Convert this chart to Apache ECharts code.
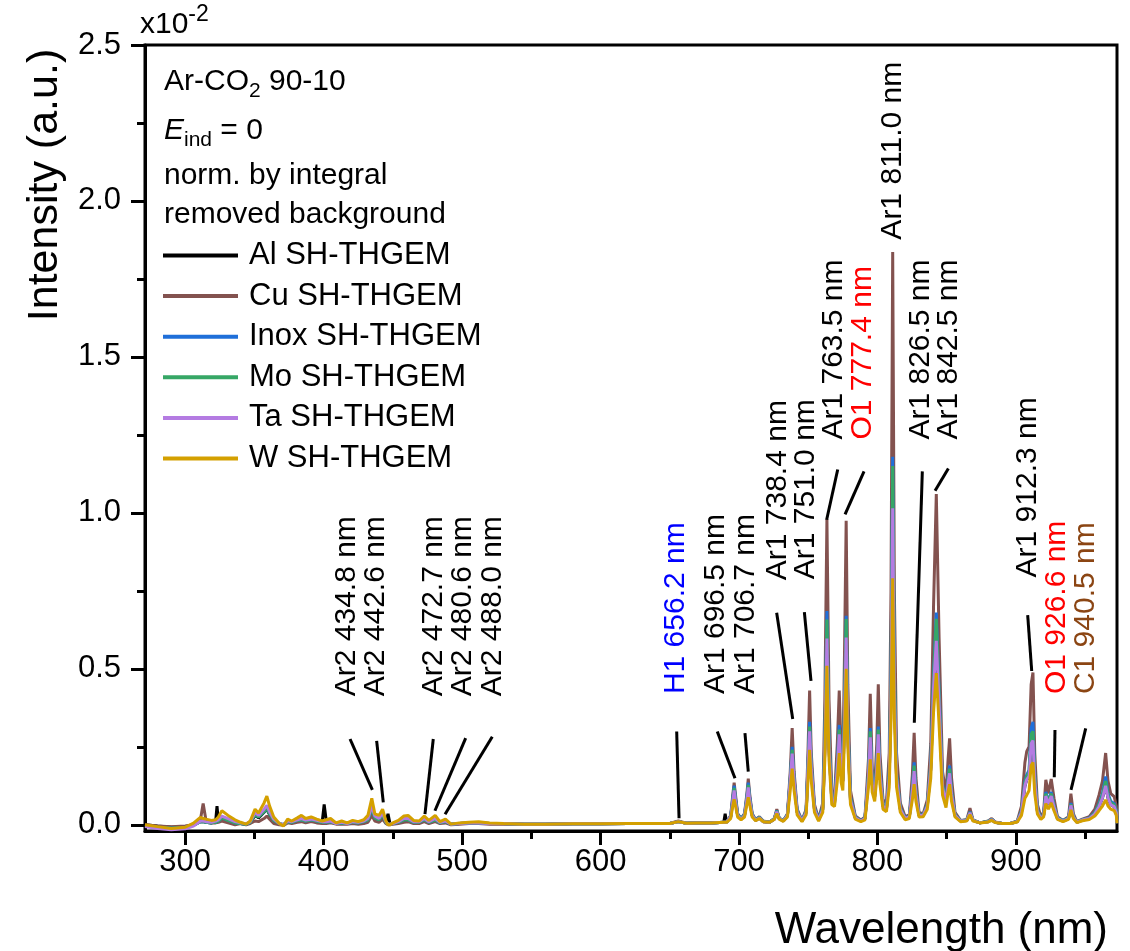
<!DOCTYPE html>
<html><head><meta charset="utf-8">
<script src="https://cdn.jsdelivr.net/npm/echarts@6/dist/echarts.min.js"></script>
<style>html,body{margin:0;padding:0;background:#fff}#c{width:1130px;height:951px}</style>
</head><body><div id="c"></div>
<script>
// ---------- DATA ----------
const wavelength = [
271,280,290,300,306,311,313,315,319,322,
323,324,326.5,331,336,340,344,347,350.5,353,
357,359,361,364,368,371,374,377,381,384,
387,391,395,399,400.4,402,405,409,413,417,
421,425,429,432,434.8,437,440,442.6,445,446.5,
448,450,454,458,461,465,469,472.7,476,480.6,
484,488,492,498,505,512,520,530,545,560,
580,600,620,640,650,656.2,662,670,680,689,
690,691,694,695.5,696.5,697.5,699,701.5,704,705.7,
706.7,707.7,709.5,712,714.7,717.5,722,725.5,727.3,729,
732,735,737,738.4,739.8,742,745.5,748.5,749.8,751,
752.2,754.5,757.5,760.5,762,763.5,765,767,769,771,
772.4,773.8,775,776.2,777.4,778.6,780.5,784,788,791,
793.5,794.8,796.2,798,799.5,800.6,801.8,804,806.5,808.5,
809.8,811,812.2,813.8,816.5,820,823,825.2,826.5,827.8,
830,833,836,838.5,840.5,842.5,844.5,847,849.5,851,
852.1,853.5,856,860,864.5,866.8,869,874,880,882.5,
885,890,896,901,904,906.5,907.8,909.5,911,912.3,
913.6,915.5,918,920,921.6,923.5,925.5,927.5,930,934,
938,939.7,941.5,944,948,953,957,960,962.5,964.8,
966.5,968.5,971,972.5,973];

const alSH = [
0,-0.004,-0.008,-0.006,0,0.010,0.010,0.008,0.006,0.010,
0.060,0.012,0.020,0.012,0.006,0.004,0.002,0.006,0.030,0.022,
0.040,0.050,0.032,0.012,0.002,0,0.010,0.006,0.014,0.016,
0.012,0.016,0.012,0.010,0.065,0.010,0.012,0.004,0.006,0.004,
0.008,0.006,0.010,0.014,0.050,0.020,0.014,0.030,0.006,0.035,
0.002,0.004,0.008,0.016,0.016,0.008,0.008,0.016,0.008,0.016,
0.006,0.010,0.002,0.004,0.006,0.006,0.004,0.004,0.002,0.002,
0.003,0.003,0.004,0.004,0.004,0.010,0.005,0.006,0.006,0.008,
0.035,0.008,0.025,0.075,0.110,0.075,0.030,0.018,0.030,0.080,
0.120,0.080,0.030,0.014,0.022,0.010,0.008,0.018,0.042,0.020,
0.012,0.030,0.140,0.228,0.140,0.040,0.012,0.040,0.178,0.300,
0.178,0.050,0.015,0.050,0.245,0.590,0.245,0.080,0.070,0.180,
0.290,0.170,0.140,0.345,0.590,0.295,0.080,0.022,0.012,0.020,
0.150,0.280,0.130,0.090,0.180,0.290,0.160,0.060,0.050,0.150,
0.430,1.000,0.430,0.150,0.050,0.020,0.025,0.108,0.172,0.098,
0.030,0.030,0.060,0.180,0.440,0.580,0.380,0.120,0.070,0.135,
0.165,0.098,0.030,0.012,0.014,0.038,0.014,0.006,0.010,0.016,
0.008,0.004,0.004,0.010,0.040,0.125,0.145,0.155,0.260,0.270,
0.140,0.044,0.020,0.030,0.092,0.066,0.092,0.057,0.020,0.012,
0.020,0.062,0.025,0.008,0.015,0.020,0.035,0.058,0.086,0.125,
0.086,0.064,0.058,0.038,0.005];

const cuSH = [
0,-0.004,-0.006,-0.004,0,0.015,0.068,0.015,0.006,0.006,
0.008,0.008,0.012,0.006,0,0.004,0,0.004,0.012,0.010,
0.020,0.028,0.018,0.004,0,-0.002,0.006,0.004,0.008,0.010,
0.006,0.010,0.006,0.004,0.006,0.004,0.006,0.002,0.002,0.002,
0.004,0.002,0.004,0.008,0.030,0.012,0.008,0.018,0.004,0,
0,0.002,0.004,0.008,0.010,0.004,0.004,0.010,0.004,0.010,
0.004,0.006,0,0.002,0.004,0.004,0.002,0.002,0.002,0.002,
0.003,0.003,0.004,0.004,0.004,0.012,0.005,0.006,0.006,0.008,
0.008,0.008,0.030,0.095,0.135,0.095,0.036,0.020,0.036,0.100,
0.148,0.100,0.036,0.016,0.026,0.012,0.008,0.020,0.050,0.022,
0.013,0.035,0.170,0.310,0.170,0.050,0.014,0.050,0.230,0.430,
0.230,0.065,0.018,0.070,0.400,0.980,0.400,0.110,0.090,0.260,
0.430,0.230,0.180,0.550,0.975,0.450,0.110,0.028,0.015,0.025,
0.210,0.420,0.180,0.120,0.260,0.450,0.230,0.080,0.070,0.230,
0.750,1.836,0.750,0.230,0.070,0.026,0.032,0.160,0.295,0.150,
0.040,0.035,0.080,0.260,0.700,1.060,0.600,0.170,0.100,0.210,
0.277,0.150,0.040,0.014,0.016,0.053,0.016,0.006,0.012,0.020,
0.009,0.004,0.004,0.012,0.060,0.200,0.235,0.250,0.450,0.488,
0.230,0.065,0.026,0.040,0.144,0.100,0.147,0.085,0.026,0.014,
0.026,0.100,0.035,0.010,0.018,0.026,0.050,0.095,0.140,0.230,
0.140,0.100,0.090,0.060,0.005];

const inoxSH = [
-0.004,-0.008,-0.010,-0.008,-0.002,0.010,0.010,0.008,0.006,0.008,
0.010,0.012,0.022,0.014,0.006,0.004,0.002,0.008,0.032,0.025,
0.042,0.052,0.035,0.014,0.004,0,0.010,0.008,0.014,0.016,
0.012,0.016,0.012,0.008,0.010,0.008,0.010,0.004,0.006,0.004,
0.008,0.006,0.010,0.016,0.052,0.022,0.016,0.032,0.008,0.002,
0.002,0.004,0.008,0.016,0.016,0.008,0.008,0.016,0.008,0.016,
0.006,0.010,0.002,0.004,0.006,0.006,0.004,0.004,0.002,0.002,
0.003,0.003,0.004,0.004,0.004,0.010,0.005,0.006,0.006,0.008,
0.008,0.008,0.028,0.085,0.125,0.085,0.034,0.020,0.034,0.090,
0.135,0.090,0.034,0.015,0.024,0.011,0.008,0.019,0.046,0.021,
0.013,0.033,0.150,0.250,0.150,0.045,0.013,0.045,0.195,0.330,
0.195,0.056,0.017,0.058,0.280,0.685,0.280,0.090,0.078,0.200,
0.320,0.185,0.150,0.390,0.670,0.330,0.090,0.025,0.013,0.022,
0.165,0.310,0.145,0.100,0.200,0.315,0.175,0.066,0.056,0.165,
0.500,1.180,0.500,0.165,0.055,0.022,0.028,0.120,0.200,0.110,
0.033,0.032,0.066,0.195,0.480,0.680,0.430,0.130,0.078,0.150,
0.190,0.110,0.033,0.013,0.015,0.042,0.015,0.006,0.011,0.018,
0.008,0.004,0.004,0.011,0.045,0.140,0.160,0.175,0.310,0.330,
0.165,0.050,0.022,0.033,0.105,0.075,0.105,0.064,0.022,0.013,
0.022,0.070,0.028,0.009,0.016,0.022,0.040,0.068,0.100,0.155,
0.100,0.075,0.068,0.045,0.005];

const moSH = [
-0.004,-0.008,-0.011,-0.009,-0.002,0.010,0.010,0.008,0.006,0.008,
0.010,0.012,0.022,0.014,0.006,0.004,0.002,0.008,0.032,0.025,
0.042,0.052,0.035,0.014,0.004,0,0.010,0.008,0.014,0.016,
0.012,0.016,0.012,0.008,0.010,0.008,0.010,0.004,0.006,0.004,
0.008,0.006,0.010,0.016,0.052,0.022,0.016,0.032,0.008,0.002,
0.002,0.004,0.008,0.016,0.016,0.008,0.008,0.016,0.008,0.016,
0.006,0.010,0.002,0.004,0.006,0.006,0.004,0.004,0.002,0.002,
0.003,0.003,0.004,0.004,0.004,0.010,0.005,0.006,0.006,0.008,
0.008,0.008,0.026,0.080,0.118,0.080,0.032,0.020,0.032,0.085,
0.128,0.085,0.032,0.015,0.023,0.011,0.008,0.019,0.044,0.021,
0.013,0.032,0.145,0.240,0.145,0.043,0.013,0.043,0.185,0.315,
0.185,0.053,0.016,0.055,0.270,0.658,0.270,0.086,0.075,0.190,
0.305,0.178,0.145,0.375,0.660,0.320,0.086,0.024,0.013,0.021,
0.160,0.300,0.140,0.096,0.190,0.305,0.168,0.064,0.054,0.160,
0.480,1.150,0.480,0.160,0.053,0.021,0.027,0.115,0.190,0.105,
0.032,0.031,0.064,0.190,0.470,0.660,0.420,0.125,0.075,0.145,
0.180,0.105,0.032,0.013,0.015,0.040,0.015,0.006,0.011,0.017,
0.008,0.004,0.004,0.011,0.043,0.135,0.155,0.168,0.290,0.300,
0.155,0.047,0.021,0.032,0.100,0.072,0.100,0.061,0.021,0.013,
0.021,0.066,0.026,0.009,0.016,0.021,0.038,0.064,0.094,0.140,
0.094,0.070,0.064,0.042,0.005];

const taSH = [
-0.006,-0.012,-0.016,-0.013,-0.004,0.012,0.012,0.010,0.008,0.012,
0.014,0.016,0.028,0.020,0.010,0.006,0.003,0.010,0.040,0.030,
0.050,0.062,0.042,0.018,0.004,0,0.012,0.010,0.016,0.020,
0.015,0.018,0.014,0.010,0.012,0.010,0.012,0.004,0.008,0.004,
0.010,0.008,0.012,0.020,0.060,0.028,0.020,0.038,0.010,0.002,
0.002,0.004,0.010,0.020,0.020,0.010,0.010,0.020,0.010,0.020,
0.008,0.012,0.002,0.004,0.006,0.006,0.004,0.004,0.002,0.002,
0.003,0.003,0.004,0.004,0.004,0.010,0.005,0.006,0.006,0.008,
0.008,0.008,0.025,0.075,0.110,0.075,0.030,0.018,0.030,0.080,
0.120,0.080,0.030,0.014,0.022,0.010,0.008,0.018,0.042,0.020,
0.012,0.030,0.140,0.228,0.140,0.040,0.012,0.040,0.178,0.300,
0.178,0.050,0.015,0.050,0.245,0.597,0.245,0.080,0.070,0.180,
0.290,0.170,0.140,0.345,0.600,0.295,0.080,0.022,0.012,0.020,
0.150,0.280,0.130,0.090,0.180,0.290,0.160,0.060,0.050,0.150,
0.430,1.015,0.430,0.150,0.050,0.020,0.025,0.108,0.172,0.098,
0.030,0.030,0.060,0.180,0.440,0.590,0.390,0.120,0.070,0.135,
0.165,0.098,0.030,0.012,0.014,0.038,0.014,0.006,0.010,0.016,
0.008,0.004,0.004,0.010,0.040,0.125,0.145,0.155,0.260,0.270,
0.140,0.044,0.020,0.030,0.092,0.066,0.092,0.057,0.020,0.012,
0.020,0.062,0.025,0.008,0.015,0.020,0.035,0.058,0.086,0.125,
0.086,0.064,0.058,0.038,0.005];

const wSH = [
0,-0.006,-0.012,-0.008,0.005,0.024,0.020,0.018,0.014,0.016,
0.018,0.025,0.045,0.030,0.016,0.008,0.002,0.012,0.050,0.038,
0.070,0.092,0.060,0.025,0.004,-0.004,0.018,0.012,0.022,0.030,
0.020,0.025,0.018,0.012,0.014,0.016,0.020,0.006,0.012,0.006,
0.014,0.010,0.016,0.030,0.085,0.035,0.030,0.050,0.012,0,
0,0.006,0.014,0.028,0.030,0.014,0.012,0.028,0.014,0.030,
0.010,0.018,0.002,0.006,0.008,0.010,0.006,0.004,0.002,0.002,
0.003,0.003,0.004,0.004,0.004,0.010,0.005,0.006,0.006,0.008,
0.008,0.008,0.020,0.060,0.082,0.060,0.025,0.016,0.025,0.065,
0.088,0.065,0.025,0.013,0.020,0.010,0.008,0.017,0.036,0.018,
0.011,0.025,0.110,0.180,0.110,0.032,0.010,0.032,0.140,0.240,
0.140,0.040,0.012,0.040,0.210,0.510,0.210,0.065,0.058,0.140,
0.230,0.135,0.110,0.290,0.500,0.250,0.065,0.018,0.010,0.016,
0.120,0.210,0.105,0.075,0.150,0.230,0.130,0.050,0.042,0.120,
0.340,0.790,0.340,0.120,0.040,0.016,0.020,0.080,0.130,0.075,
0.025,0.026,0.050,0.150,0.360,0.486,0.320,0.095,0.055,0.105,
0.130,0.075,0.025,0.010,0.012,0.032,0.012,0.006,0.009,0.014,
0.007,0.004,0.004,0.009,0.030,0.085,0.095,0.110,0.190,0.200,
0.100,0.035,0.017,0.025,0.068,0.050,0.070,0.045,0.017,0.010,
0.017,0.048,0.020,0.007,0.013,0.017,0.028,0.045,0.060,0.080,
0.060,0.050,0.045,0.030,0.005];

const seriesNames = ['Al SH-THGEM','Cu SH-THGEM','Inox SH-THGEM','Mo SH-THGEM','Ta SH-THGEM','W SH-THGEM'];

const xMajorTicks = [300,400,500,600,700,800,900];
const xMinorTicks = [350,450,550,650,750,850,950];
const yMajorTicks = [0,0.5,1,1.5,2,2.5];
const yMinorTicks = [0.25,0.75,1.25,1.75,2.25];

// line annotations (text start point in data units)
const annoTexts = ['Ar2 434.8 nm','Ar2 442.6 nm','Ar2 472.7 nm','Ar2 480.6 nm','Ar2 488.0 nm','H1 656.2 nm','Ar1 696.5 nm','Ar1 706.7 nm','Ar1 738.4 nm','Ar1 751.0 nm','Ar1 763.5 nm','O1 777.4 nm','Ar1 811.0 nm','Ar1 826.5 nm','Ar1 842.5 nm','Ar1 912.3 nm','O1 926.6 nm','C1 940.5 nm'];
const annoX = [416.7,437.7,479.2,500.5,521.8,654.5,683.4,705.1,728.2,748.4,768.6,789.2,810.9,831.4,851.7,908.4,929.7,950.6];
const annoY = [0.412,0.412,0.412,0.412,0.412,0.419,0.419,0.419,0.784,0.787,1.235,1.235,1.876,1.235,1.235,0.793,0.419,0.419];
const annoKind = ['k','k','k','k','k','H','k','k','k','k','k','O','k','k','k','k','O','C'];

// leader lines (data units)
const leadX1 = [419.1,438.3,479.2,502.6,521.8,655.0,684.3,704.3,727.2,747.2,771.3,790.3,832.4,851.2,908.5,928.2,950.4];
const leadY1 = [0.275,0.269,0.275,0.278,0.282,0.299,0.299,0.294,0.680,0.682,1.139,1.133,1.133,1.142,0.672,0.304,0.309];
const leadX2 = [435.2,443.1,473.2,480.4,487.7,656.7,697.1,706.7,738.8,752.0,763.3,776.6,826.6,841.6,911.4,927.7,939.8];
const leadY2 = [0.112,0.072,0.034,0.045,0.034,0.021,0.149,0.170,0.339,0.461,0.978,0.995,0.327,1.071,0.493,0.152,0.112];

// ---------- STYLE ----------
const FONT = "'Liberation Sans', Arial, Helvetica, sans-serif";
const seriesColors = ['#000000','#83524f','#1f6fd9','#36a766','#b47be2','#d4a000'];
const kindColors = {k:'#000000', H:'#0000ff', O:'#ff0000', C:'#8b4513'};
const valueArrays = [alSH, cuSH, inoxSH, moSH, taSH, wSH];

const chart = echarts.init(document.getElementById('c'), null, {renderer:'canvas'});

const lineSeries = seriesNames.map((name, k) => ({
  name: name,
  type: 'line',
  data: wavelength.map((x, i) => [x, valueArrays[k][i]]),
  symbol: 'none',
  showSymbol: false,
  color: seriesColors[k],
  itemStyle: {color: seriesColors[k]},
  lineStyle: {color: seriesColors[k], width: 3},
  xAxisIndex: 0, yAxisIndex: 0,
  z: 2 + k,
  animation: false,
  silent: true
}));

const leaderSeries = {
  type: 'custom', name: 'leaders', silent: true, clip: false, z: 20,
  xAxisIndex: 0, yAxisIndex: 0,
  data: leadX1.map((x, i) => [x, leadY1[i], leadX2[i], leadY2[i]]),
  encode: {x: [0, 2], y: [1, 3]},
  renderItem: function (params, api) {
    const p1 = api.coord([api.value(0), api.value(1)]);
    const p2 = api.coord([api.value(2), api.value(3)]);
    return {type: 'line', shape: {x1: p1[0], y1: p1[1], x2: p2[0], y2: p2[1]},
      style: {stroke: '#000', lineWidth: 3, lineCap: 'butt'}};
  }
};

const labelSeries = {
  type: 'custom', name: 'labels', silent: true, clip: false, z: 21,
  xAxisIndex: 0, yAxisIndex: 0,
  data: annoX.map((x, i) => [x, annoY[i], i]),
  encode: {x: 0, y: 1},
  renderItem: function (params, api) {
    const p = api.coord([api.value(0), api.value(1)]);
    const i = api.value(2);
    return {type: 'text', x: p[0], y: p[1], rotation: Math.PI / 2,
      style: {text: annoTexts[i], fill: kindColors[annoKind[i]], fontSize: 30, fontFamily: FONT,
        align: 'left', verticalAlign: 'middle'}};
  }
};

const option = {
  animation: false,
  backgroundColor: '#ffffff',
  grid: {left: 145, right: 13, top: 45, bottom: 120, show: true, borderColor: '#000', borderWidth: 3, backgroundColor: 'transparent'},
  xAxis: [
    {type: 'value', min: 271, max: 973, position: 'bottom',
     axisLine: {show: true, onZero: false, lineStyle: {color: '#000', width: 3}},
     axisTick: {show: true, customValues: xMajorTicks, length: 14, lineStyle: {color: '#000', width: 3}},
     axisLabel: {show: true, customValues: xMajorTicks, fontSize: 31, color: '#000', fontFamily: FONT, margin: 16},
     splitLine: {show: false}},
    {type: 'value', min: 271, max: 973, position: 'bottom',
     axisLine: {show: false, onZero: false},
     axisTick: {show: true, customValues: xMinorTicks, length: 8, lineStyle: {color: '#000', width: 3}},
     axisLabel: {show: false}, splitLine: {show: false}}
  ],
  yAxis: [
    {type: 'value', min: -0.02, max: 2.5, position: 'left',
     axisLine: {show: true, onZero: false, lineStyle: {color: '#000', width: 3}},
     axisTick: {show: true, customValues: yMajorTicks, length: 14, lineStyle: {color: '#000', width: 3}},
     axisLabel: {show: true, customValues: yMajorTicks, formatter: v => Number(v).toFixed(1), fontSize: 31, color: '#000', fontFamily: FONT, margin: 24},
     splitLine: {show: false}},
    {type: 'value', min: -0.02, max: 2.5, position: 'left',
     axisLine: {show: false, onZero: false},
     axisTick: {show: true, customValues: yMinorTicks, length: 8, lineStyle: {color: '#000', width: 3}},
     axisLabel: {show: false}, splitLine: {show: false}}
  ],
  legend: {
    data: seriesNames, orient: 'vertical', left: 163, top: 240, padding: 0,
    icon: 'path://M0,0 L75,0 L75,4 L0,4 Z',
    itemWidth: 75, itemHeight: 4, itemGap: 9.6, selectedMode: false,
    textStyle: {fontSize: 31, lineHeight: 31, color: '#000', fontFamily: FONT, padding: [0, 0, 0, 6]}
  },
  graphic: [
    {type: 'text', x: 45, y: 185, rotation: Math.PI / 2, z: 100,
     style: {text: 'Intensity (a.u.)', fill: '#000', fontSize: 43, fontFamily: FONT, align: 'center', verticalAlign: 'middle'}},
    {type: 'text', x: 1108, y: 931, z: 100,
     style: {text: 'Wavelength (nm)', fill: '#000', fontSize: 44, fontFamily: FONT, align: 'right', verticalAlign: 'middle'}},
    {type: 'text', x: 140, y: 25, z: 100,
     style: {text: '{n|x10}{p|-2}', align: 'left', verticalAlign: 'middle',
       rich: {n: {fontSize: 30, fontFamily: FONT, fill: '#000', color: '#000'},
              p: {fontSize: 23, fontFamily: FONT, fill: '#000', color: '#000', padding: [0, 0, 20, 0]}}}},
    {type: 'text', x: 164, y: 82, z: 100,
     style: {text: '{n|Ar-CO}{s|2}{n| 90-10}', align: 'left', verticalAlign: 'middle',
       rich: {n: {fontSize: 30, fontFamily: FONT, fill: '#000', color: '#000'},
              s: {fontSize: 21, fontFamily: FONT, fill: '#000', color: '#000', padding: [18, 0, 0, 0]}}}},
    {type: 'text', x: 164, y: 131, z: 100,
     style: {text: '{i|E}{s|ind}{n| = 0}', align: 'left', verticalAlign: 'middle',
       rich: {n: {fontSize: 30, fontFamily: FONT, fill: '#000', color: '#000'},
              i: {fontSize: 30, fontFamily: FONT, fontStyle: 'italic', fill: '#000', color: '#000'},
              s: {fontSize: 21, fontFamily: FONT, fill: '#000', color: '#000', padding: [18, 0, 0, 0]}}}},
    {type: 'text', x: 164, y: 176, z: 100,
     style: {text: 'norm. by integral', fill: '#000', fontSize: 30, fontFamily: FONT, align: 'left', verticalAlign: 'middle'}},
    {type: 'text', x: 164, y: 215, z: 100,
     style: {text: 'removed background', fill: '#000', fontSize: 30, fontFamily: FONT, align: 'left', verticalAlign: 'middle'}}
  ],
  series: lineSeries.concat([leaderSeries, labelSeries])
};

chart.setOption(option);
</script>
</body></html>
